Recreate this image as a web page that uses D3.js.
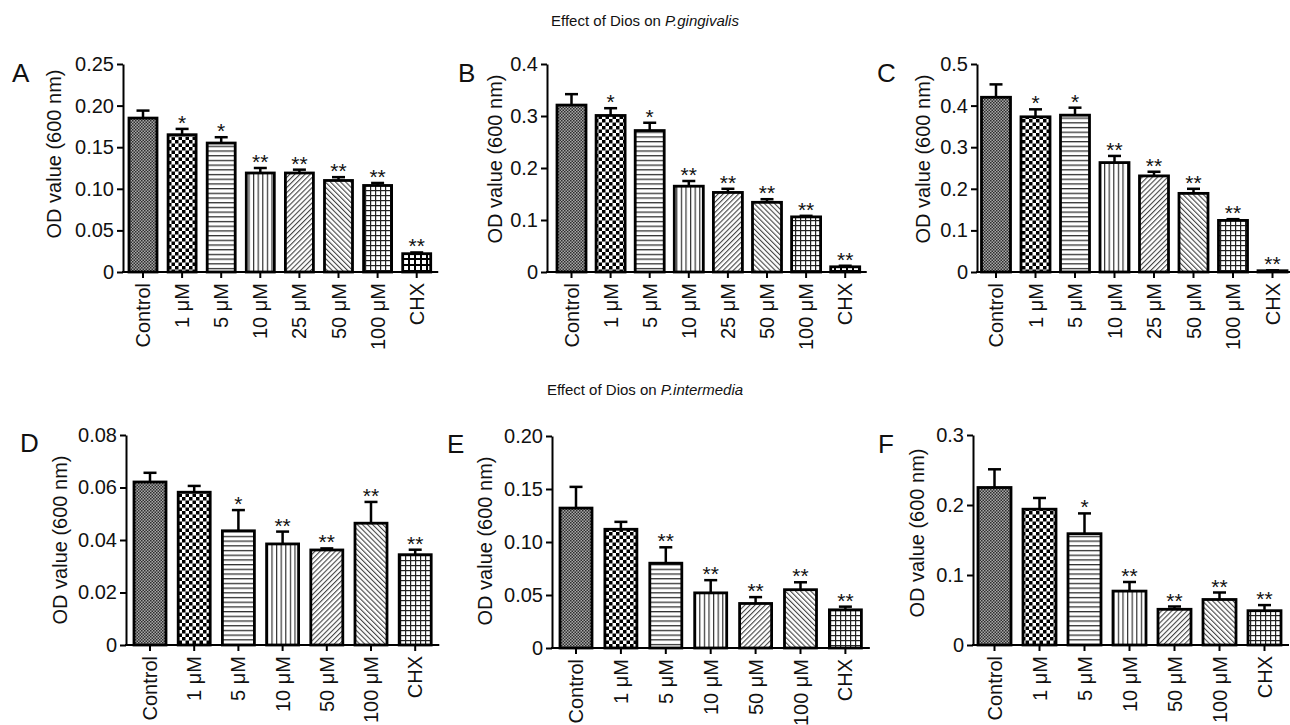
<!DOCTYPE html>
<html>
<head>
<meta charset="utf-8">
<script src="https://cdn.jsdelivr.net/npm/d3@7"></script>
<style>
  html, body { margin: 0; padding: 0; background: #fff; }
  svg { display: block; }
  text { font-family: "Liberation Sans", Arial, Helvetica, sans-serif; fill: #111; }
</style>
</head>
<body>
<script>
// ---------------- DATA ----------------
const catsTop = ["Control", "1 μM", "5 μM", "10 μM", "25 μM", "50 μM", "100 μM", "CHX"];
const catsBottom = ["Control", "1 μM", "5 μM", "10 μM", "50 μM", "100 μM", "CHX"];

const meansA = [0.185, 0.165, 0.155, 0.119, 0.119, 0.110, 0.104, 0.022];
const semA   = [0.009, 0.007, 0.007, 0.006, 0.004, 0.004, 0.003, 0.0015];
const starsA = ["", "*", "*", "**", "**", "**", "**", "**"];

const meansB = [0.321, 0.301, 0.272, 0.165, 0.153, 0.134, 0.106, 0.010];
const semB   = [0.021, 0.014, 0.015, 0.010, 0.007, 0.006, 0.002, 0.002];
const starsB = ["", "*", "*", "**", "**", "**", "**", "**"];

const meansC = [0.420, 0.373, 0.377, 0.263, 0.231, 0.189, 0.124, 0.003];
const semC   = [0.031, 0.018, 0.018, 0.016, 0.010, 0.011, 0.003, 0.001];
const starsC = ["", "*", "*", "**", "**", "**", "**", "**"];

const meansD = [0.0621, 0.0582, 0.0435, 0.0385, 0.0362, 0.0464, 0.0344];
const semD   = [0.0035, 0.0024, 0.0079, 0.0047, 0.0006, 0.0081, 0.0019];
const starsD = ["", "", "*", "**", "**", "**", "**"];

const meansE = [0.132, 0.112, 0.080, 0.052, 0.042, 0.055, 0.036];
const semE   = [0.020, 0.007, 0.015, 0.012, 0.006, 0.007, 0.003];
const starsE = ["", "", "**", "**", "**", "**", "**"];

const meansF = [0.225, 0.194, 0.159, 0.077, 0.051, 0.065, 0.049];
const semF   = [0.026, 0.016, 0.029, 0.013, 0.004, 0.010, 0.008];
const starsF = ["", "", "*", "**", "**", "**", "**"];

const ticksA = [0, 0.05, 0.10, 0.15, 0.20, 0.25];
const tickLabelsA = ["0", "0.05", "0.10", "0.15", "0.20", "0.25"];
const ticksB = [0, 0.1, 0.2, 0.3, 0.4];
const tickLabelsB = ["0", "0.1", "0.2", "0.3", "0.4"];
const ticksC = [0, 0.1, 0.2, 0.3, 0.4, 0.5];
const tickLabelsC = ["0", "0.1", "0.2", "0.3", "0.4", "0.5"];
const ticksD = [0, 0.02, 0.04, 0.06, 0.08];
const tickLabelsD = ["0", "0.02", "0.04", "0.06", "0.08"];
const ticksE = [0, 0.05, 0.10, 0.15, 0.20];
const tickLabelsE = ["0", "0.05", "0.10", "0.15", "0.20"];
const ticksF = [0, 0.1, 0.2, 0.3];
const tickLabelsF = ["0", "0.1", "0.2", "0.3"];

const panelLetters = ["A", "B", "C", "D", "E", "F"];
const yAxisTitle = "OD value (600 nm)";
const titleTopPlain = "Effect of Dios on ";
const titleTopItalic = "P.gingivalis";
const titleBottomPlain = "Effect of Dios on ";
const titleBottomItalic = "P.intermedia";

const patternsTop = ["checkFine", "check", "hlines", "vlines", "diagR", "diagL", "grid", "gridBold"];
const patternsBottom = ["checkFine", "check", "hlines", "vlines", "diagR", "diagL", "grid"];

// ---------------- LAYOUT ----------------
const layout = [
  { axisX: 123, c0: 143,   step: 39.1, bw: 28, y0: 272, yTop: 64,  letterX: 12,  letterY: 82,  labX: 54,  labY: 154 },
  { axisX: 547, c0: 571.5, step: 39.1, bw: 29, y0: 272, yTop: 64,  letterX: 458, letterY: 82,  labX: 495, labY: 159 },
  { axisX: 977, c0: 996,   step: 39.5, bw: 29, y0: 272, yTop: 64,  letterX: 877, letterY: 82,  labX: 923, labY: 159 },
  { axisX: 126, c0: 150,   step: 44.2, bw: 32, y0: 645, yTop: 435, letterX: 20,  letterY: 452, labX: 60,  labY: 540 },
  { axisX: 552, c0: 576,   step: 44.9, bw: 32, y0: 648, yTop: 436, letterX: 447, letterY: 453, labX: 485, labY: 541 },
  { axisX: 973, c0: 994.5, step: 45,   bw: 33, y0: 645, yTop: 435, letterX: 878, letterY: 453, labX: 917, labY: 533 }
];

const panels = [
  { cats: catsTop,    means: meansA, sem: semA, stars: starsA, ticks: ticksA, labels: tickLabelsA, pats: patternsTop },
  { cats: catsTop,    means: meansB, sem: semB, stars: starsB, ticks: ticksB, labels: tickLabelsB, pats: patternsTop },
  { cats: catsTop,    means: meansC, sem: semC, stars: starsC, ticks: ticksC, labels: tickLabelsC, pats: patternsTop },
  { cats: catsBottom, means: meansD, sem: semD, stars: starsD, ticks: ticksD, labels: tickLabelsD, pats: patternsBottom },
  { cats: catsBottom, means: meansE, sem: semE, stars: starsE, ticks: ticksE, labels: tickLabelsE, pats: patternsBottom },
  { cats: catsBottom, means: meansF, sem: semF, stars: starsF, ticks: ticksF, labels: tickLabelsF, pats: patternsBottom }
];

// ---------------- DRAW ----------------
const W = 1290, H = 725;
const svg = d3.select("body").append("svg").attr("width", W).attr("height", H);
svg.append("rect").attr("width", W).attr("height", H).attr("fill", "#fff");

const defs = svg.append("defs");
function pat(id, w, h, transform) {
  const p = defs.append("pattern").attr("id", id).attr("patternUnits", "userSpaceOnUse")
    .attr("width", w).attr("height", h);
  if (transform) p.attr("patternTransform", transform);
  return p;
}
// fine checker (gray look)
let p = pat("checkFine", 3, 3);
p.append("rect").attr("width", 3).attr("height", 3).attr("fill", "#a8a8a8");
p.append("rect").attr("width", 1.5).attr("height", 1.5).attr("fill", "#2e2e2e");
p.append("rect").attr("x", 1.5).attr("y", 1.5).attr("width", 1.5).attr("height", 1.5).attr("fill", "#2e2e2e");
// coarse checker
p = pat("check", 7, 7);
p.append("rect").attr("width", 7).attr("height", 7).attr("fill", "#fff");
p.append("rect").attr("width", 3.5).attr("height", 3.5).attr("fill", "#000");
p.append("rect").attr("x", 3.5).attr("y", 3.5).attr("width", 3.5).attr("height", 3.5).attr("fill", "#000");
// horizontal lines
p = pat("hlines", 10, 4.7);
p.append("rect").attr("width", 10).attr("height", 4.7).attr("fill", "#fff");
p.append("rect").attr("y", 0).attr("width", 10).attr("height", 1.3).attr("fill", "#333");
// vertical lines
p = pat("vlines", 4.6, 10);
p.append("rect").attr("width", 4.6).attr("height", 10).attr("fill", "#fff");
p.append("rect").attr("x", 0).attr("width", 1.2).attr("height", 10).attr("fill", "#333");
// diagonals
p = pat("diagR", 3.6, 10, "rotate(45)");
p.append("rect").attr("width", 3.6).attr("height", 10).attr("fill", "#fff");
p.append("rect").attr("width", 1.1).attr("height", 10).attr("fill", "#444");
p = pat("diagL", 3.6, 10, "rotate(-45)");
p.append("rect").attr("width", 3.6).attr("height", 10).attr("fill", "#fff");
p.append("rect").attr("width", 1.1).attr("height", 10).attr("fill", "#444");
// grid
p = pat("grid", 5, 5);
p.append("rect").attr("width", 5).attr("height", 5).attr("fill", "#fff");
p.append("rect").attr("width", 5).attr("height", 1.2).attr("fill", "#222");
p.append("rect").attr("width", 1.2).attr("height", 5).attr("fill", "#222");
p = pat("gridBold", 6, 6);
p.append("rect").attr("width", 6).attr("height", 6).attr("fill", "#fff");
p.append("rect").attr("width", 6).attr("height", 2).attr("fill", "#000");
p.append("rect").attr("width", 2).attr("height", 6).attr("fill", "#000");

// titles
function title(y, plain, ital) {
  const t = svg.append("text").attr("x", 645).attr("y", y).attr("text-anchor", "middle")
    .style("font-size", "15px");
  t.append("tspan").text(plain);
  t.append("tspan").style("font-style", "italic").text(ital);
}
title(26, titleTopPlain, titleTopItalic);
title(395, titleBottomPlain, titleBottomItalic);

panels.forEach((pd, i) => {
  const L = layout[i];
  const n = pd.cats.length;
  const padIn = 1 - L.bw / L.step;
  const start = L.c0 - L.step / 2;
  const end = start + n * L.step;
  const x = d3.scaleBand().domain(pd.cats).range([start, end])
    .paddingInner(padIn).paddingOuter(padIn / 2);
  const yMax = pd.ticks[pd.ticks.length - 1];
  const y = d3.scaleLinear().domain([0, yMax]).range([L.y0, L.yTop]);
  const g = svg.append("g");

  const rows = pd.cats.map((c, k) => ({ c, v: pd.means[k], e: pd.sem[k], s: pd.stars[k], pat: pd.pats[k] }));
  // error bars
  rows.forEach(r => {
    const cx = x(r.c) + x.bandwidth() / 2;
    g.append("line").attr("x1", cx).attr("x2", cx).attr("y1", y(r.v)).attr("y2", y(r.v + r.e))
      .attr("stroke", "#000").attr("stroke-width", 2.5);
    g.append("line").attr("x1", cx - 6.5).attr("x2", cx + 6.5).attr("y1", y(r.v + r.e)).attr("y2", y(r.v + r.e))
      .attr("stroke", "#000").attr("stroke-width", 2.5);
  });
  // bars
  g.selectAll("rect.bar").data(rows).enter().append("rect").attr("class", "bar")
    .attr("x", d => x(d.c)).attr("y", d => y(d.v))
    .attr("width", x.bandwidth()).attr("height", d => L.y0 - y(d.v))
    .attr("fill", d => `url(#${d.pat})`).attr("stroke", "#000").attr("stroke-width", 2.8);
  // stars
  g.selectAll("text.star").data(rows.filter(r => r.s)).enter().append("text").attr("class", "star")
    .attr("x", d => x(d.c) + x.bandwidth() / 2).attr("y", d => y(d.v + d.e) + 1)
    .attr("text-anchor", "middle").style("font-size", "21px").text(d => d.s);

  // y axis
  const ya = g.append("g").attr("transform", `translate(${L.axisX},0)`)
    .call(d3.axisLeft(y).tickValues(pd.ticks).tickFormat((d, k) => pd.labels[k]).tickSize(6).tickSizeOuter(0));
  ya.select(".domain").attr("stroke", "#000").attr("stroke-width", 2);
  ya.selectAll(".tick line").attr("stroke", "#000").attr("stroke-width", 2);
  ya.selectAll(".tick text").attr("x", -9).style("font-size", "20px")
    .style("font-family", '"Liberation Sans", Arial, sans-serif').attr("fill", "#111");

  // x axis
  const xa = g.append("g").attr("transform", `translate(0,${L.y0})`)
    .call(d3.axisBottom(x).tickSize(6).tickSizeOuter(0));
  xa.select(".domain").remove();
  g.append("line").attr("x1", L.axisX - 1).attr("x2", end + 2).attr("y1", L.y0).attr("y2", L.y0)
    .attr("stroke", "#000").attr("stroke-width", 2);
  xa.selectAll(".tick line").attr("stroke", "#000").attr("stroke-width", 2);
  xa.selectAll(".tick text")
    .attr("y", 0).attr("x", 0).attr("dy", "0.35em")
    .attr("text-anchor", "end")
    .attr("transform", "translate(0,11) rotate(-90)")
    .style("font-size", "20px")
    .style("font-family", '"Liberation Sans", Arial, sans-serif').attr("fill", "#111");

  // y axis title
  g.append("text").attr("transform", `translate(${L.labX},${L.labY}) rotate(-90)`)
    .attr("text-anchor", "middle").attr("dy", "0.35em").style("font-size", "20px").text(yAxisTitle);

  // panel letter
  g.append("text").attr("x", L.letterX).attr("y", L.letterY).style("font-size", "26px").text(panelLetters[i]);
});
</script>
</body>
</html>
